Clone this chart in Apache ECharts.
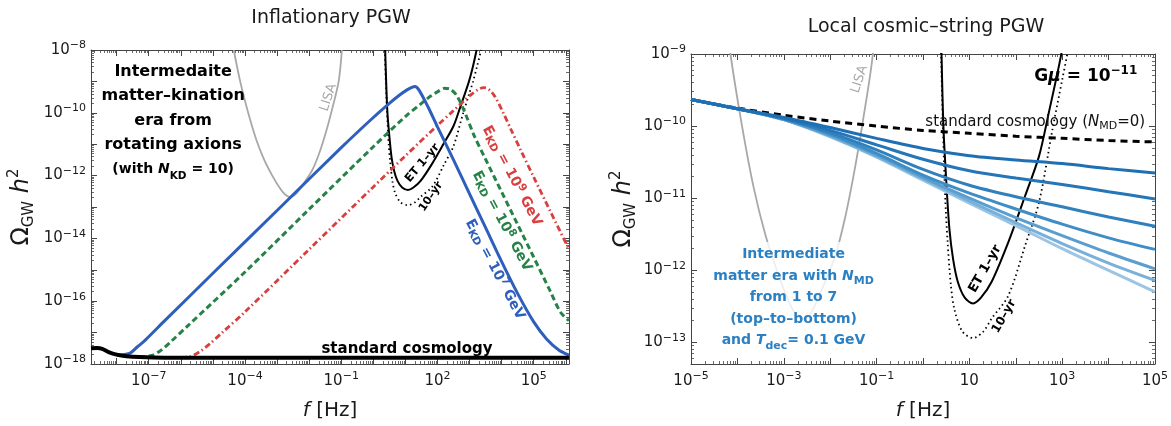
<!DOCTYPE html>
<html>
<head>
<meta charset="utf-8">
<title>Primordial gravitational waves</title>
<script src="https://cdn.jsdelivr.net/npm/echarts@6/dist/echarts.min.js"></script>
<style>
  html, body { margin: 0; padding: 0; background: #ffffff; }
  #chart { width: 1171px; height: 426px; }
</style>
</head>
<body>
<div id="chart"></div>
<script>
// Every curve is stored as log10(f / Hz) and log10(Omega_GW h^2).

// ---------- Inflationary PGW ----------
const infStdLogF = [-8.8, -8.6, -8.45, -8.25, -8.0, -7.7, -7.3, -6.5, -5.0, -2.0, 2.0, 6.1];
const infStdLogO = [-17.5, -17.49, -17.52, -17.62, -17.7, -17.75, -17.78, -17.8, -17.8, -17.8, -17.8, -17.8];

const infE7LogF = [-8.0, -7.6, -7.35, -7.1, -6.5, -5.0, -3.0, -1.0, 0.0, 0.5, 0.8, 1.05, 1.2, 1.3, 1.42, 1.7, 2.0, 2.5, 3.0, 3.5, 4.0, 4.5, 5.0, 5.4, 5.8, 6.1];
const infE7LogO = [-17.72, -17.66, -17.45, -17.23, -16.62, -15.11, -13.11, -11.11, -10.15, -9.7, -9.45, -9.27, -9.19, -9.16, -9.27, -9.8, -10.45, -11.5, -12.58, -13.66, -14.74, -15.76, -16.66, -17.2, -17.57, -17.72];

const infE8LogF = [-7.3, -6.9, -6.6, -6.3, -5.8, -4.0, -2.0, 0.0, 1.0, 1.5, 1.8, 2.05, 2.22, 2.4, 2.6, 2.85, 3.14, 3.5, 4.0, 4.5, 5.0, 5.5, 5.84, 6.1];
const infE8LogO = [-17.79, -17.73, -17.55, -17.28, -16.8, -15.07, -13.07, -11.08, -10.12, -9.7, -9.46, -9.3, -9.22, -9.25, -9.45, -9.98, -10.72, -11.48, -12.52, -13.56, -14.6, -15.65, -16.36, -16.62];

const infE9LogF = [-6.0, -5.7, -5.4, -5.1, -4.7, -4.0, -2.0, 0.0, 1.0, 2.0, 2.5, 2.85, 3.1, 3.3, 3.45, 3.6, 3.8, 4.05, 4.3, 4.6, 5.0, 5.5, 6.1];
const infE9LogO = [-17.8, -17.76, -17.6, -17.36, -16.99, -16.34, -14.35, -12.36, -11.37, -10.4, -9.93, -9.6, -9.38, -9.24, -9.2, -9.25, -9.5, -10.0, -10.55, -11.2, -12.05, -13.1, -14.35];

// ---------- detector sensitivity curves ----------
const lisaLogF = [-4.35, -4.15, -3.9, -3.65, -3.4, -3.15, -2.9, -2.75, -2.6, -2.45, -2.3, -2.15, -1.9, -1.7, -1.5, -1.3, -1.08, -0.98];
const lisaLogO = [-8.0, -9.0, -10.0, -10.85, -11.5, -12.0, -12.42, -12.6, -12.68, -12.62, -12.45, -12.22, -11.82, -11.33, -10.7, -9.95, -9.0, -8.0];

const et1LogF = [0.37, 0.40, 0.44, 0.50, 0.57, 0.65, 0.75, 0.90, 1.08, 1.25, 1.48, 1.84, 2.20, 2.50, 2.71, 2.97, 3.10, 3.22];
const et1LogO = [-8.0, -9.0, -10.0, -10.74, -11.43, -11.85, -12.16, -12.38, -12.46, -12.38, -12.16, -11.61, -10.97, -10.42, -9.82, -9.04, -8.55, -8.0];

const et10LogF = [0.36, 0.39, 0.43, 0.48, 0.53, 0.60, 0.68, 0.85, 1.08, 1.30, 1.48, 1.84, 2.20, 2.50, 2.79, 3.00, 3.11, 3.24, 3.36];
const et10LogO = [-8.0, -9.0, -10.0, -11.0, -11.6, -12.2, -12.55, -12.85, -12.94, -12.85, -12.67, -12.35, -11.66, -11.06, -10.05, -9.36, -9.0, -8.5, -8.0];

// ---------- Local cosmic-string PGW (G mu = 1e-11) ----------
const csLogF = [-5, -4, -3, -2, -1, 0, 1, 2, 3, 4, 5];
const csStdLogO = [-9.63, -9.75, -9.85, -9.93, -10.0, -10.06, -10.1, -10.14, -10.17, -10.2, -10.22];
const csN1LogO = [-9.63, -9.76, -9.88, -10.02, -10.17, -10.31, -10.41, -10.47, -10.52, -10.59, -10.65];
const csN2LogO = [-9.63, -9.76, -9.89, -10.06, -10.26, -10.46, -10.62, -10.72, -10.81, -10.91, -11.01];
const csN3LogO = [-9.63, -9.76, -9.90, -10.09, -10.33, -10.60, -10.82, -10.98, -11.12, -11.26, -11.39];
const csN4LogO = [-9.63, -9.76, -9.90, -10.11, -10.38, -10.68, -10.93, -11.15, -11.36, -11.55, -11.71];
const csN5LogO = [-9.63, -9.76, -9.91, -10.13, -10.40, -10.71, -11.00, -11.27, -11.52, -11.76, -11.98];
const csN6LogO = [-9.63, -9.76, -9.91, -10.14, -10.42, -10.73, -11.04, -11.34, -11.63, -11.90, -12.14];
const csN7LogO = [-9.63, -9.76, -9.91, -10.15, -10.43, -10.75, -11.07, -11.38, -11.70, -12.00, -12.30];

// ---------- tick labels (decade exponents) ----------
const infXLabels = [-7, -4, -1, 2, 5];
const infYLabels = [-18, -16, -14, -12, -10, -8];
const csXLabels = [-5, -3, -1, 1, 3, 5];
const csYLabels = [-13, -12, -11, -10, -9];

// ---------- styling ----------
const FONT = 'DejaVu Sans';
const INK = '#1a1a1a';
const FRAME = '#444444';

// Rich-text helpers for sub/superscripts on a line of height lh with base size b.
function supStyle(size, b, lh, extra) {
  return Object.assign({ fontFamily: FONT, fontSize: size, verticalAlign: 'top',
    lineHeight: Math.max(2, 2 * (lh / 2 - 0.055 * b - 0.345 * size)) }, extra || {});
}
function subStyle(size, b, lh, extra) {
  return Object.assign({ fontFamily: FONT, fontSize: size, verticalAlign: 'bottom',
    lineHeight: Math.max(2, lh - 1.09 * b + 0.69 * size) }, extra || {});
}
function baseStyle(size, lh, extra) {
  return Object.assign({ fontFamily: FONT, fontSize: size, lineHeight: lh }, extra || {});
}

const minus = e => (e < 0 ? '\u2212' + (-e) : String(e));
function powLabel(v) {
  const e = Math.round(v);
  return e === 1 ? '{b|10}' : '{b|10}{s|' + minus(e) + '}';
}
const tickRich = {
  b: baseStyle(15, 20, { color: INK }),
  s: supStyle(11, 15, 20, { color: INK })
};

function decades(lo, hi) {
  const major = [], minor = [];
  for (let n = Math.floor(lo); n <= Math.ceil(hi); n++) {
    if (n >= lo - 1e-9 && n <= hi + 1e-9) major.push(n);
    for (let k = 2; k <= 9; k++) {
      const v = n + Math.log10(k);
      if (v > lo && v < hi) minor.push(v);
    }
  }
  return { major, minor };
}

const yNameText = '{o|\u03A9}{g|GW}{h| h}{p|2}';
const yNameRich = {
  o: baseStyle(24, 30, { color: INK }),
  g: subStyle(15, 24, 30, { color: INK }),
  h: baseStyle(24, 30, { color: INK, fontStyle: 'italic' }),
  p: supStyle(15, 24, 30, { color: INK })
};
const xNameText = '{f|f}{u| [Hz]}';
const xNameRich = {
  f: baseStyle(20, 26, { color: INK, fontStyle: 'italic' }),
  u: baseStyle(20, 26, { color: INK })
};

function axisSet(dim, gridIndex, lo, hi, labels, nameGap) {
  const t = decades(lo, hi);
  const near = dim === 'x' ? 'bottom' : 'left';
  const far = dim === 'x' ? 'top' : 'right';
  const common = { type: 'value', gridIndex, min: lo, max: hi, splitLine: { show: false }, silent: true };
  const line = { show: true, onZero: false, lineStyle: { color: FRAME, width: 1 } };
  const noLine = { show: false, onZero: false };
  const major = { show: true, inside: true, length: 6, customValues: t.major, lineStyle: { color: FRAME, width: 1 } };
  const minor = { show: true, inside: true, length: 3, customValues: t.minor, lineStyle: { color: FRAME, width: 0.8 } };
  const main = Object.assign({}, common, {
    position: near, axisLine: line, axisTick: major,
    axisLabel: { show: true, customValues: labels, formatter: powLabel, rich: tickRich, margin: dim === 'x' ? 7 : 5 },
    name: dim === 'x' ? xNameText : yNameText,
    nameLocation: 'middle', nameGap,
    nameRotate: dim === 'y' ? 90 : 0,
    nameTextStyle: { rich: dim === 'x' ? xNameRich : yNameRich }
  });
  return [
    main,
    Object.assign({}, common, { position: near, axisLine: noLine, axisTick: minor, axisLabel: { show: false } }),
    Object.assign({}, common, { position: far, axisLine: line, axisTick: major, axisLabel: { show: false } }),
    Object.assign({}, common, { position: far, axisLine: noLine, axisTick: minor, axisLabel: { show: false } })
  ];
}

const INF = { x: 0, y: 0 };   // main axes of the left grid
const CS = { x: 4, y: 4 };    // main axes of the right grid

function pairs(xs, ys) { return xs.map((x, i) => [x, ys[i]]); }
function curve(xs, ys, ax, lineStyle, z) {
  return {
    type: 'line', data: pairs(xs, ys), xAxisIndex: ax.x, yAxisIndex: ax.y,
    showSymbol: false, symbol: 'none', smooth: 0.3,
    clip: true, silent: true, z, lineStyle
  };
}

const GRAY = '#a8a8a8';
const BLUE = '#2e5fbd';
const GREEN = '#268246';
const RED = '#d8403f';
const CSBLUE = '#2b80c3';
const nmdColors = ['#1f6fb4', '#2476b8', '#2f80bd', '#3f8dc5', '#5a9ecf', '#78b0d9', '#9cc5e3'];

const series = [
  // left panel
  curve(lisaLogF, lisaLogO, INF, { color: GRAY, width: 1.8 }, 2),
  curve(et10LogF, et10LogO, INF, { color: '#000', width: 1.8, type: [1.5, 3.2] }, 3),
  curve(et1LogF, et1LogO, INF, { color: '#000', width: 2 }, 3),
  curve(infE9LogF, infE9LogO, INF, { color: RED, width: 2.8, type: [6, 3, 1.5, 3] }, 4),
  curve(infE8LogF, infE8LogO, INF, { color: GREEN, width: 3, type: [6, 3.5] }, 5),
  curve(infE7LogF, infE7LogO, INF, { color: BLUE, width: 3 }, 6),
  curve(infStdLogF, infStdLogO, INF, { color: '#000', width: 4 }, 7),
  // right panel
  curve(lisaLogF, lisaLogO, CS, { color: GRAY, width: 1.8 }, 2),
  curve(et10LogF, et10LogO, CS, { color: '#000', width: 1.8, type: [1.5, 3.2] }, 3),
  curve(et1LogF, et1LogO, CS, { color: '#000', width: 2 }, 3),
  curve(csLogF, csStdLogO, CS, { color: '#000', width: 3, type: [7, 5] }, 4)
];
[csN7LogO, csN6LogO, csN5LogO, csN4LogO, csN3LogO, csN2LogO, csN1LogO].forEach((ys, i) => {
  series.push(curve(csLogF, ys, CS, { color: nmdColors[6 - i], width: 3 }, 5 + i));
});

// Text annotations, anchored in data coordinates of their panel.
function note(ax, at, text, rich, rotate, extra) {
  return {
    type: 'scatter', xAxisIndex: ax.x, yAxisIndex: ax.y, data: [at], symbolSize: 0,
    silent: true, z: 20, itemStyle: { opacity: 1 },
    label: Object.assign({ show: true, position: 'inside', opacity: 1, formatter: () => text, rich, rotate: rotate || 0 }, extra || {})
  };
}
const bold = { fontWeight: 'bold' };
function ekd(color, exp) {
  return {
    text: '{t|E}{k|KD}{t| = 10}{p|' + exp + '}{t| GeV}',
    rich: {
      t: baseStyle(14, 18, Object.assign({ color }, bold)),
      k: subStyle(10.5, 14, 18, Object.assign({ color }, bold)),
      p: supStyle(10.5, 14, 18, Object.assign({ color }, bold))
    }
  };
}
const e9 = ekd(RED, 9), e8 = ekd(GREEN, 8), e7 = ekd(BLUE, 7);

series.push(
  note(INF, [-6.24, -10.25],
    '{a|Intermedaite}\n{a|matter\u2013kination}\n{a|era from}\n{a|rotating axions}\n{c|(with }{ci|N}{cs|KD}{c| = 10)}',
    {
      a: baseStyle(16, 24.5, Object.assign({ color: '#000' }, bold)),
      c: baseStyle(14, 24.5, Object.assign({ color: '#000' }, bold)),
      ci: baseStyle(14, 24.5, Object.assign({ color: '#000', fontStyle: 'italic' }, bold)),
      cs: subStyle(10.5, 14, 24.5, Object.assign({ color: '#000' }, bold))
    }, 0, { align: 'center' }),
  note(INF, [-1.4, -9.51], '{l|LISA}', { l: baseStyle(13, 16, { color: GRAY }) }, 72),
  note(INF, [1.53, -11.6], '{e|ET 1\u2013yr}', { e: baseStyle(11.5, 14, Object.assign({ color: '#000' }, bold)) }, 50),
  note(INF, [1.8, -12.67], '{e|10\u2013yr}', { e: baseStyle(11, 14, Object.assign({ color: '#000' }, bold)) }, 56),
  note(INF, [4.32, -12.01], e9.text, e9.rich, -62),
  note(INF, [4.01, -13.45], e8.text, e8.rich, -62),
  note(INF, [3.79, -14.99], e7.text, e7.rich, -62),
  note(INF, [1.05, -17.52], '{k|standard cosmology}', { k: baseStyle(15, 18, Object.assign({ color: '#000' }, bold)) }, 0),

  note(CS, [3.51, -9.31], '{g|G}{gi|\u03BC}{g| = 10}{gs|\u221211}', {
    g: baseStyle(17, 22, Object.assign({ color: '#000' }, bold)),
    gi: baseStyle(17, 22, Object.assign({ color: '#000', fontStyle: 'italic' }, bold)),
    gs: supStyle(12, 17, 22, Object.assign({ color: '#000' }, bold))
  }, 0),
  note(CS, [2.42, -9.94], '{n|standard cosmology (}{ni|N}{ns|MD}{n|=0)}', {
    n: baseStyle(15, 20, { color: '#111' }),
    ni: baseStyle(15, 20, { color: '#111', fontStyle: 'italic' }),
    ns: subStyle(11, 15, 20, { color: '#111' })
  }, 0),
  note(CS, [-2.79, -12.38],
    '{a|Intermediate}\n{a|matter era with }{ai|N}{as|MD}\n{a|from 1 to 7}\n{a|(top\u2013to\u2013bottom)}\n{a|and }{ai|T}{as|dec}{a|= 0.1 GeV}',
    {
      a: baseStyle(14, 21.5, Object.assign({ color: CSBLUE }, bold)),
      ai: baseStyle(14, 21.5, Object.assign({ color: CSBLUE, fontStyle: 'italic' }, bold)),
      as: subStyle(11, 14, 21.5, Object.assign({ color: CSBLUE }, bold))
    }, 0, { align: 'center', backgroundColor: 'rgba(255,255,255,0.8)', padding: [2, 6] }),
  note(CS, [-1.37, -9.35], '{l|LISA}', { l: baseStyle(13, 16, { color: GRAY }) }, 72),
  note(CS, [1.34, -11.98], '{e|ET 1\u2013yr}', { e: baseStyle(13, 16, Object.assign({ color: '#000' }, bold)) }, 60),
  note(CS, [1.75, -12.64], '{e|10\u2013yr}', { e: baseStyle(12, 15, Object.assign({ color: '#000' }, bold)) }, 60)
);

const option = {
  animation: false,
  backgroundColor: '#ffffff',
  textStyle: { fontFamily: FONT },
  grid: [
    { left: 91, top: 50, width: 478, height: 314 },
    { left: 691, top: 54, width: 465, height: 312 }
  ],
  xAxis: [].concat(
    axisSet('x', 0, -8.8, 6.1, infXLabels, 34),
    axisSet('x', 1, -5, 5, csXLabels, 34)
  ),
  yAxis: [].concat(
    axisSet('y', 0, -18, -8, infYLabels, 54),
    axisSet('y', 1, -13.3, -9, csYLabels, 52)
  ),
  graphic: [
    { type: 'text', x: 331, y: 18, silent: true,
      style: { text: 'Inflationary PGW', font: '19px "DejaVu Sans"', fill: INK, textAlign: 'center', textVerticalAlign: 'middle' } },
    { type: 'text', x: 926, y: 27, silent: true,
      style: { text: 'Local cosmic\u2013string PGW', font: '19px "DejaVu Sans"', fill: INK, textAlign: 'center', textVerticalAlign: 'middle' } }
  ],
  series
};

const chart = echarts.init(document.getElementById('chart'), null, { renderer: 'canvas' });
chart.setOption(option);
</script>
</body>
</html>
